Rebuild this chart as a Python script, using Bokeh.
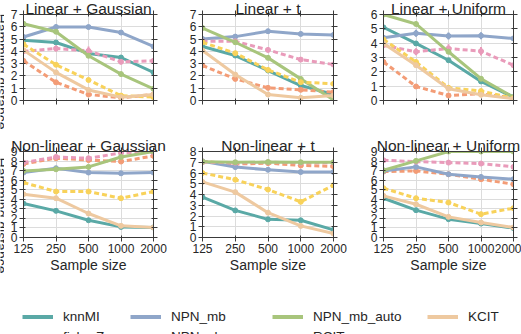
import math
from bokeh.plotting import figure
from bokeh.layouts import column, row
from bokeh.models import (Range1d, FixedTicker, NumeralTickFormatter, LogAxis,
                          LinearAxis, Label, Legend, LegendItem,
                          GlobalInlineStyleSheet)
from bokeh.embed import file_html
from bokeh.resources import INLINE

# ---------------- data ----------------
sample_sizes = [125, 250, 500, 1000, 2000]
methods = ["knnMI", "fisherZ", "NPN_mb", "NPN_glasso", "NPN_mb_auto", "RCIT", "KCIT"]
panel_titles = ["Linear + Gaussian", "Linear + t", "Linear + Uniform",
                "Non-linear + Gaussian", "Non-linear + t", "Non-linear + Uniform"]
y_max = [7, 7, 6, 9, 8, 9]
y_axis_title = "Hamming distance"
x_axis_title = "Sample size"

linear_gaussian = {
    "knnMI":       [4.9, 4.72, 3.83, 3.5, 2.29],
    "fisherZ":     [3.23, 1.48, 0.49, 0.22, 0.49],
    "NPN_mb":      [5.17, 5.98, 5.98, 5.53, 4.4],
    "NPN_glasso":  [4.0, 4.23, 4.04, 3.15, 3.23],
    "NPN_mb_auto": [6.25, 5.6, 3.64, 2.15, 0.95],
    "RCIT":        [4.58, 2.91, 1.67, 0.4, 0.27],
    "KCIT":        [4.1, 2.29, 0.86, 0.27, 0.48],
}
linear_t = {
    "knnMI":       [4.39, 3.66, 2.44, 1.22, 0.49],
    "fisherZ":     [2.85, 1.76, 1.03, 0.87, 0.68],
    "NPN_mb":      [5.01, 5.2, 5.64, 5.42, 5.34],
    "NPN_glasso":  [4.82, 4.82, 4.12, 3.33, 2.93],
    "NPN_mb_auto": [5.9, 4.74, 3.47, 1.76, 0.05],
    "RCIT":        [4.74, 3.85, 2.49, 1.49, 1.36],
    "KCIT":        [4.07, 2.11, 0.49, 0.22, 0.41],
}
linear_uniform = {
    "knnMI":       [5.1, 3.98, 2.81, 1.33, 0.23],
    "fisherZ":     [2.69, 0.98, 0.35, 0.47, 0.16],
    "NPN_mb":      [4.38, 4.69, 4.5, 4.52, 4.33],
    "NPN_glasso":  [3.86, 3.4, 3.63, 3.44, 2.46],
    "NPN_mb_auto": [6.0, 5.34, 3.4, 1.52, 0.23],
    "RCIT":        [4.26, 2.69, 0.89, 0.66, 0.16],
    "KCIT":        [3.98, 2.46, 0.82, 0.4, 0.12],
}
nonlinear_gaussian = {
    "knnMI":       [3.55, 2.79, 1.81, 1.11, 1.05],
    "fisherZ":     [7.7, 8.3, 8.1, 7.95, 8.54],
    "NPN_mb":      [6.8, 7.25, 6.8, 6.72, 6.8],
    "NPN_glasso":  [7.84, 8.43, 8.29, 8.85, 8.89],
    "NPN_mb_auto": [6.97, 7.14, 7.39, 8.43, 9.0],
    "RCIT":        [5.75, 4.81, 4.81, 4.11, 4.81],
    "KCIT":        [4.53, 4.11, 2.51, 1.22, 1.05],
}
nonlinear_t = {
    "knnMI":       [3.75, 2.52, 1.69, 1.6, 0.71],
    "fisherZ":     [7.08, 6.83, 6.92, 6.7, 6.62],
    "NPN_mb":      [7.08, 6.55, 6.3, 6.09, 6.09],
    "NPN_glasso":  [7.0, 6.95, 7.0, 6.95, 6.95],
    "NPN_mb_auto": [7.05, 7.0, 7.02, 7.0, 7.0],
    "RCIT":        [6.0, 5.38, 4.46, 3.32, 4.86],
    "KCIT":        [5.17, 4.22, 2.31, 1.08, 0.37],
}
nonlinear_uniform = {
    "knnMI":       [4.11, 2.86, 1.92, 1.46, 0.98],
    "fisherZ":     [6.9, 6.97, 6.62, 6.1, 5.57],
    "NPN_mb":      [6.97, 7.39, 6.62, 6.34, 6.1],
    "NPN_glasso":  [8.08, 7.94, 7.84, 7.74, 7.39],
    "NPN_mb_auto": [7.04, 8.02, 9.0, 9.0, 9.0],
    "RCIT":        [5.16, 4.11, 3.66, 2.44, 3.07],
    "KCIT":        [4.36, 3.48, 2.16, 1.57, 1.05],
}
panel_data = [linear_gaussian, linear_t, linear_uniform,
              nonlinear_gaussian, nonlinear_t, nonlinear_uniform]

# error bar half-widths (NPN_mb, NPN_glasso)
npn_mb_err = [
    [0.1, 0.2, 0.15, 0.1, 0.1],
    [0.1, 0.2, 0.15, 0.1, 0.1],
    [0.1, 0.25, 0.25, 0.25, 0.1],
    [0.1, 0.1, 0.1, 0.1, 0.1],
    [0.1, 0.1, 0.1, 0.1, 0.1],
    [0.1, 0.15, 0.1, 0.1, 0.1],
]
npn_glasso_err = [
    [0.1, 0.25, 0.35, 0.2, 0.1],
    [0.1, 0.1, 0.2, 0.15, 0.1],
    [0.1, 0.25, 0.3, 0.3, 0.1],
    [0.1, 0.1, 0.1, 0.1, 0.1],
    [0.1, 0.1, 0.1, 0.1, 0.1],
    [0.1, 0.1, 0.1, 0.1, 0.1],
]

# ---------------- styles ----------------
colors = {
    "knnMI": "#5aa9a6",
    "fisherZ": "#f39c76",
    "NPN_mb": "#8fa6c9",
    "NPN_glasso": "#e99bba",
    "NPN_mb_auto": "#a8c57c",
    "RCIT": "#f8d25a",
    "KCIT": "#eec9a0",
}
dashes = {
    "knnMI": "solid", "fisherZ": "5 3", "NPN_mb": "solid", "NPN_glasso": "5 3",
    "NPN_mb_auto": "solid", "RCIT": "5 3", "KCIT": "solid",
}
FONT = "Liberation Sans"
TXT = "#262626"
AX = "#3a3a3a"
GRID = "#dcdcdc"
NO_SHRINK = {"flex-shrink": "0", "min-width": "max-content"}


def style_axis(ax, ticks, show_labels):
    ax.ticker = FixedTicker(ticks=ticks)
    ax.axis_line_color = AX
    ax.axis_line_width = 1
    ax.major_tick_line_color = AX
    ax.major_tick_in = 2
    ax.major_tick_out = 4
    ax.minor_tick_line_color = None
    ax.major_label_text_font = FONT
    ax.major_label_text_color = TXT
    if show_labels:
        ax.major_label_text_font_size = "12px"
        ax.major_label_standoff = 2
    else:
        ax.major_label_overrides = {t: "" for t in ticks}
        ax.major_label_text_font_size = "1px"
        ax.major_label_standoff = 1


def make_panel(i, frame_w, b_left, b_right, b_top, b_bottom, bottom_row):
    ymax = y_max[i]
    yt = list(range(0, ymax + 1))
    p = figure(frame_width=frame_w, frame_height=86, x_axis_type="log",
               x_range=Range1d(125, 2000), y_range=Range1d(0, ymax),
               output_backend="svg", toolbar_location=None,
               min_border_left=b_left, min_border_right=b_right,
               min_border_top=b_top, min_border_bottom=b_bottom,
               styles=NO_SHRINK)
    p.outline_line_color = AX
    p.background_fill_color = "white"
    p.border_fill_color = "white"

    p.title.text = panel_titles[i]
    p.title.align = "center"
    p.title.text_font = FONT
    p.title.text_font_size = "15.5px"
    p.title.text_font_style = "normal"
    p.title.text_color = TXT
    p.title.standoff = -12

    style_axis(p.xaxis[0], sample_sizes, bottom_row)
    p.xaxis.formatter = NumeralTickFormatter(format="0")
    style_axis(p.yaxis[0], yt, True)
    if bottom_row:
        p.xaxis.axis_label = x_axis_title
        p.xaxis.axis_label_text_font = FONT
        p.xaxis.axis_label_text_font_size = "14px"
        p.xaxis.axis_label_text_font_style = "normal"
        p.xaxis.axis_label_text_color = TXT
        p.xaxis.axis_label_standoff = 1

    top_ax = LogAxis()
    style_axis(top_ax, sample_sizes, False)
    p.add_layout(top_ax, "above")
    right_ax = LinearAxis()
    style_axis(right_ax, yt, False)
    right_ax.major_label_standoff = 0
    p.add_layout(right_ax, "right")

    p.xgrid.ticker = FixedTicker(ticks=sample_sizes)
    p.ygrid.ticker = FixedTicker(ticks=yt)
    p.xgrid.grid_line_color = GRID
    p.ygrid.grid_line_color = GRID

    data = panel_data[i]
    errs = {"NPN_mb": npn_mb_err[i], "NPN_glasso": npn_glasso_err[i]}
    for m in methods:
        ys = data[m]
        if m in errs:
            lo = [y - e for y, e in zip(ys, errs[m])]
            hi = [y + e for y, e in zip(ys, errs[m])]
            p.segment(x0=sample_sizes, y0=lo, x1=sample_sizes, y1=hi,
                      line_color=colors[m], line_width=2)
        p.line(sample_sizes, ys, line_color=colors[m], line_width=3,
               line_dash=dashes[m])
        p.scatter(sample_sizes, ys, size=5, fill_color=colors[m],
                  line_color=colors[m])
    return p


def make_ylabel_strip(height, center_from_top):
    s = figure(frame_width=4, frame_height=height, x_range=Range1d(0, 4),
               y_range=Range1d(0, height), toolbar_location=None,
               output_backend="svg", x_axis_location=None,
               y_axis_location=None, min_border=0, styles=NO_SHRINK)
    s.grid.visible = False
    s.outline_line_color = None
    s.add_layout(Label(x=0.3, y=height - center_from_top, angle=-math.pi / 2,
                       text=y_axis_title, text_align="center",
                       text_baseline="alphabetic", text_font=FONT,
                       text_font_size="14px", text_color=TXT))
    return s


col_fw = [130, 131, 130]
col_bl = [19, 22, 23]
col_br = [27, 27, 8]

row1 = [make_panel(i, col_fw[i], col_bl[i], col_br[i], 14, 30, False)
        for i in range(3)]
row2 = [make_panel(3 + i, col_fw[i], col_bl[i], col_br[i], 21, 53, True)
        for i in range(3)]
strip1 = make_ylabel_strip(130, 57)
strip2 = make_ylabel_strip(160, 64)

# ---------------- legend ----------------
leg = figure(frame_width=521, frame_height=44, toolbar_location=None,
             output_backend="svg", x_range=Range1d(0, 1), y_range=Range1d(0, 1),
             x_axis_location=None, y_axis_location=None, min_border=0,
             styles=NO_SHRINK)
leg.grid.visible = False
leg.outline_line_color = None
# legend handles: the series lines, drawn outside this strip's visible range
leg_r = {m: leg.line(sample_sizes, linear_gaussian[m], line_color=colors[m],
                     line_width=4, line_dash=dashes[m]) for m in methods}
legend_columns = [["knnMI", "fisherZ"], ["NPN_mb", "NPN_glasso"],
                  ["NPN_mb_auto", "RCIT"], ["KCIT"]]
col_x = [22, 130, 272, 427]
for names, x in zip(legend_columns, col_x):
    h = len(names) * 17 + (len(names) - 1) * 3
    vy = 44 - (17.5 + h)
    lg = Legend(items=[LegendItem(label=n, renderers=[leg_r[n]]) for n in names],
                location=(x, vy), orientation="vertical",
                glyph_width=31, glyph_height=17, label_height=17,
                label_standoff=10, spacing=3, padding=0, margin=0,
                label_text_font=FONT, label_text_font_size="13.5px",
                label_text_color=TXT, border_line_alpha=0,
                background_fill_alpha=0)
    leg.add_layout(lg)

wide = {"width": "max-content", "min-width": "max-content", "flex-shrink": "0"}
layout = column(row(strip1, *row1, styles=wide), row(strip2, *row2, styles=wide),
                leg, styles=wide)
layout.stylesheets = [GlobalInlineStyleSheet(
    css="html, body { margin: 0; padding: 0; overflow: hidden; }")]
open("out.html", "w").write(file_html(layout, INLINE))
